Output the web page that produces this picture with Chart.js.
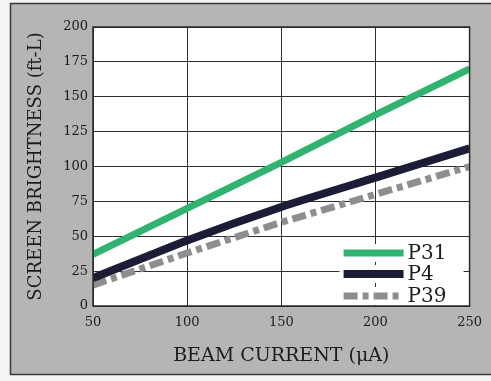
<!DOCTYPE html>
<html>
<head>
<meta charset="utf-8">
<script src="https://cdn.jsdelivr.net/npm/chart.js@4.4.1/dist/chart.umd.min.js"></script>
<style>
    html, body { margin: 0; padding: 0; background: #f4f4f2; }
    #wrap { width: 491px; height: 381px; position: relative; }
</style>
</head>
<body>
<div id="wrap"><canvas id="chart" width="491" height="381"></canvas></div>
<script>
// Beam current (uA) vs screen brightness (ft-L) for three phosphors
const beamCurrent = [50, 100, 150, 200, 250];
const p31Values = [37, 70, 103, 137, 170];
const p4Values = [20, 47, 71, 92, 113];
const p39Values = [15, 38, 60, 80, 100];
const xTicks = [50, 100, 150, 200, 250];
const yTicks = [0, 25, 50, 75, 100, 125, 150, 175, 200];

const serif = '"DejaVu Serif", serif';

function toPoints(values) {
    return beamCurrent.map((x, i) => ({ x: x, y: values[i] }));
}

// Gray card behind the whole chart plus the white plot area
const backdrop = {
    id: 'backdrop',
    beforeDraw(chart) {
        const ctx = chart.ctx;
        const a = chart.chartArea;
        ctx.save();
        ctx.fillStyle = '#b5b5b3';
        ctx.fillRect(10, 3, 481, 372);
        ctx.strokeStyle = '#3a3a3a';
        ctx.lineWidth = 1.5;
        ctx.strokeRect(10.5, 3.5, 490, 371);
        ctx.fillStyle = '#ffffff';
        ctx.fillRect(a.left, a.top, a.right - a.left, a.bottom - a.top);
        ctx.restore();
    },
    afterDatasetsDraw(chart) {
        const ctx = chart.ctx;
        const a = chart.chartArea;
        ctx.save();
        ctx.strokeStyle = '#2a2a2a';
        ctx.lineWidth = 1.5;
        ctx.strokeRect(a.left, a.top, a.right - a.left, a.bottom - a.top);
        ctx.restore();
    }
};

// Legend drawn inside the plot, bottom right
const insideLegend = {
    id: 'insideLegend',
    afterDraw(chart) {
        const ctx = chart.ctx;
        const a = chart.chartArea;
        const x0 = a.right - 126;
        const rows = [a.bottom - 53, a.bottom - 32, a.bottom - 10];
        ctx.save();
        chart.data.datasets.forEach((ds, i) => {
            const y = rows[i];
            ctx.fillStyle = '#ffffff';
            ctx.fillRect(x0 - 4, y - 9, 124, 18);
            ctx.beginPath();
            ctx.strokeStyle = ds.borderColor;
            ctx.lineWidth = ds.borderWidth;
            ctx.setLineDash(ds.borderDash || []);
            ctx.moveTo(x0, y);
            ctx.lineTo(x0 + 60, y);
            ctx.stroke();
            ctx.setLineDash([]);
            ctx.fillStyle = '#1c1c1c';
            ctx.font = '20px ' + serif;
            ctx.textBaseline = 'middle';
            ctx.fillText(ds.label, x0 + 64, y + 1);
        });
        ctx.restore();
    }
};

new Chart(document.getElementById('chart'), {
    type: 'line',
    data: {
        datasets: [
            {
                label: 'P31',
                data: toPoints(p31Values),
                borderColor: '#2fb36f',
                borderWidth: 7,
                pointRadius: 0
            },
            {
                label: 'P4',
                data: toPoints(p4Values),
                borderColor: '#1b1d36',
                borderWidth: 8,
                pointRadius: 0,
                tension: 0.2
            },
            {
                label: 'P39',
                data: toPoints(p39Values),
                borderColor: '#8e8e8e',
                borderWidth: 7,
                borderDash: [14, 5, 6, 5],
                pointRadius: 0
            }
        ]
    },
    options: {
        responsive: false,
        animation: false,
        layout: { padding: { left: 14, top: 27, right: 20, bottom: 0 } },
        plugins: {
            legend: { display: false },
            tooltip: { enabled: false }
        },
        scales: {
            x: {
                type: 'linear',
                min: 50,
                max: 250,
                afterBuildTicks: axis => { axis.ticks = xTicks.map(v => ({ value: v })); },
                afterFit: axis => { axis.height = 75; },
                grid: { color: '#2e2e2e', lineWidth: 1, drawTicks: false },
                border: { display: false },
                ticks: {
                    color: '#1c1c1c',
                    font: { family: serif, size: 13 },
                    padding: 9,
                    maxRotation: 0
                },
                title: {
                    display: true,
                    text: 'BEAM CURRENT (\u03bcA)',
                    color: '#1c1c1c',
                    font: { family: serif, size: 19 },
                    padding: { top: 4, bottom: 14 }
                }
            },
            y: {
                min: 0,
                max: 200,
                afterBuildTicks: axis => { axis.ticks = yTicks.map(v => ({ value: v })); },
                afterFit: axis => { axis.width = 79; },
                grid: { color: '#2e2e2e', lineWidth: 1, drawTicks: false },
                border: { display: false },
                ticks: {
                    color: '#1c1c1c',
                    font: { family: serif, size: 13 },
                    padding: 5
                },
                title: {
                    display: true,
                    text: 'SCREEN BRIGHTNESS (ft-L)',
                    color: '#1c1c1c',
                    font: { family: serif, size: 18 },
                    padding: { top: 12, bottom: 6 }
                }
            }
        }
    },
    plugins: [backdrop, insideLegend]
});
</script>
</body>
</html>
